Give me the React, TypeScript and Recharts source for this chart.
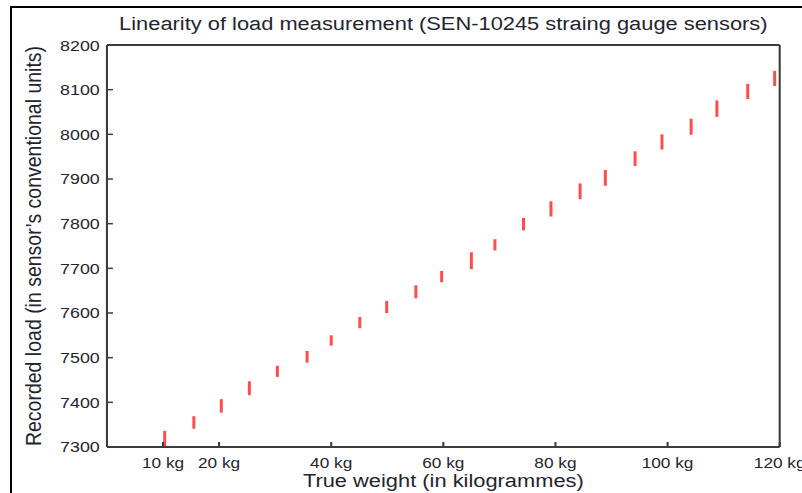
import React from 'react';
import { ScatterChart, Scatter, XAxis, YAxis, ErrorBar, Label } from 'recharts';

const weights = [10.3, 15.5, 20.4, 25.4, 30.4, 35.7, 40.0, 45.1, 49.9, 55.1, 59.7, 65.0, 69.2, 74.3, 79.2, 84.4, 88.9, 94.2, 99.0, 104.2, 108.8, 114.3, 119.1];
const loadLow = [7302, 7341, 7377, 7416, 7457, 7489, 7527, 7566, 7600, 7633, 7669, 7698, 7740, 7785, 7816, 7855, 7885, 7929, 7966, 7999, 8039, 8079, 8108];
const loadHigh = [7336, 7369, 7407, 7447, 7482, 7515, 7550, 7591, 7627, 7662, 7694, 7736, 7765, 7813, 7850, 7890, 7920, 7962, 8000, 8035, 8076, 8113, 8142];
const xTicks = [10, 20, 40, 60, 80, 100, 120];
const yTicks = [7300, 7400, 7500, 7600, 7700, 7800, 7900, 8000, 8100, 8200];

const TITLE = 'Linearity of load measurement (SEN-10245 straing gauge sensors)';
const X_LABEL = 'True weight (in kilogrammes)';
const Y_LABEL = 'Recorded load (in sensor\u2019s conventional units)';

const points = weights.map((w, i) => {
  const mid = (loadLow[i] + loadHigh[i]) / 2;
  return { x: w, y: mid, err: [mid - loadLow[i], loadHigh[i] - mid] };
});

const FONT = '"Liberation Sans", Arial, Helvetica, sans-serif';
const TEXT = '#24242e';
const AXIS = '#3c3c3c';
const STRETCH = 1.15;

export default function App() {
  return (
    <div style={{ position: 'absolute', left: 0, top: 0, width: 802, height: 493, background: '#fff', overflow: 'hidden' }}>
      <div
        style={{
          position: 'absolute',
          left: 10,
          top: 6,
          width: 792,
          height: 487,
          borderLeft: '2px solid #000',
          borderTop: '2px solid #000',
        }}
      />
      <div
        style={{
          position: 'absolute',
          left: 0,
          top: 0,
          transform: `scaleX(${STRETCH})`,
          transformOrigin: '0 0',
        }}
      >
        <ScatterChart
          width={698}
          height={493}
          margin={{ top: 0, right: 19, bottom: 0, left: 0 }}
          style={{ fontFamily: FONT }}
        >
          <XAxis
            xAxisId="t"
            orientation="top"
            type="number"
            dataKey="x"
            domain={[0, 120]}
            height={45}
            tick={false}
            tickLine={false}
            axisLine={{ stroke: AXIS, strokeWidth: 2 }}
          >
            <Label value={TITLE} position="insideTop" offset={17} style={{ fontSize: 19, fill: TEXT }} />
          </XAxis>
          <XAxis
            xAxisId="b"
            type="number"
            dataKey="x"
            domain={[0, 120]}
            ticks={xTicks}
            tickFormatter={(v: number) => `${v} kg`}
            height={46}
            tickSize={-5}
            tickMargin={15}
            tick={{ fontSize: 15, fill: TEXT }}
            tickLine={{ stroke: AXIS, strokeWidth: 1.8 }}
            axisLine={{ stroke: AXIS, strokeWidth: 2 }}
            interval={0}
          >
            <Label value={X_LABEL} position="insideBottom" offset={6} style={{ fontSize: 19, fill: TEXT }} />
          </XAxis>
          <YAxis
            yAxisId="l"
            type="number"
            dataKey="y"
            domain={[7300, 8200]}
            allowDataOverflow
            ticks={yTicks}
            width={93}
            tickSize={-5.2}
            tickMargin={11.5}
            tick={{ fontSize: 15.5, fill: TEXT }}
            tickLine={{ stroke: AXIS, strokeWidth: 1.5 }}
            axisLine={{ stroke: AXIS, strokeWidth: 1.8 }}
            interval={0}
          >
            <Label
              value={Y_LABEL}
              angle={-90}
              position="insideLeft"
              offset={29}
              style={{ fontSize: 19.5, fill: TEXT, textAnchor: 'middle' }}
            />
          </YAxis>
          <YAxis
            yAxisId="r"
            orientation="right"
            type="number"
            domain={[7300, 8200]}
            allowDataOverflow
            ticks={yTicks}
            width={1}
            tickSize={-5.2}
            tick={false}
            tickLine={{ stroke: AXIS, strokeWidth: 1.5 }}
            axisLine={{ stroke: AXIS, strokeWidth: 1.8 }}
            interval={0}
          />
          <Scatter
            data={points}
            xAxisId="b"
            yAxisId="l"
            dataKey="y"
            isAnimationActive={false}
            shape={() => <g />}
          >
            <ErrorBar
              dataKey="err"
              direction="y"
              width={0}
              stroke="#ff4c4c"
              strokeWidth={2.6}
              isAnimationActive={false}
            />
          </Scatter>
        </ScatterChart>
      </div>
    </div>
  );
}
